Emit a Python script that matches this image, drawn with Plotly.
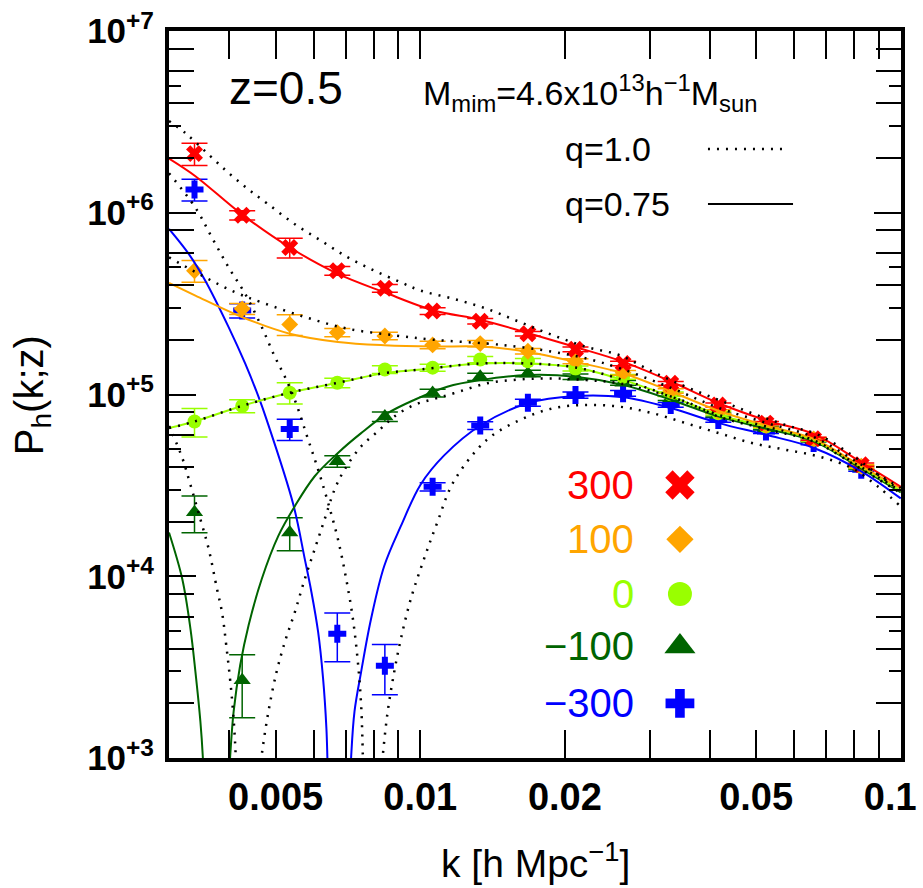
import math
import plotly.graph_objects as go

FONT = "Liberation Sans, Arial, Helvetica, sans-serif"

# ---------------- measured power spectra (simulation points) ----------------
k_bins = [0.00339, 0.00426, 0.00535, 0.00672, 0.00844, 0.01061, 0.01333, 0.01675,
          0.02104, 0.02643, 0.03321, 0.04172, 0.05242, 0.06586, 0.08275]

P_p300 = [2.115e6, 9.68e5, 6.44e5, 4.80e5, 3.84e5, 2.88e5, 2.53e5, 2.16e5,
          1.774e5, 1.482e5, 1.152e5, 8.76e4, 6.96e4, 5.71e4, 4.11e4]
P_p100 = [4.80e5, 2.96e5, 2.43e5, 2.19e5, 2.10e5, 1.875e5, 1.906e5, 1.730e5,
          1.525e5, 1.316e5, 1.045e5, 8.05e4, 6.75e4, 5.69e4, 4.03e4]
P_0 = [7.10e4, 8.65e4, 1.023e5, 1.160e5, 1.373e5, 1.405e5, 1.558e5, 1.525e5,
       1.391e5, 1.252e5, 1.003e5, 7.89e4, 6.66e4, 5.64e4, 4.00e4]
P_m100 = [2.25e4, 2.68e3, 1.740e4, 4.29e4, 7.56e4, 1.019e5, 1.252e5, 1.306e5,
          1.252e5, 1.160e5, 9.53e4, 7.72e4, 6.53e4, 5.59e4, 3.95e4]
P_m300 = [1.344e6, 2.90e5, 6.45e4, 4.83e3, 3.22e3, 3.11e4, 6.75e4, 9.02e4,
          9.94e4, 1.015e5, 8.76e4, 7.25e4, 6.26e4, 5.41e4, 3.86e4]

# relative 1-sigma errors
rel_p300 = [0.139, 0.059, 0.124, 0.055, 0.048, 0.042, 0.035, 0.030, 0.030, 0.028, 0.025, 0.025, 0.022, 0.020, 0.020]
rel_p100 = [0.137, 0.069, 0.130, 0.052, 0.048, 0.048, 0.040, 0.035, 0.032, 0.030, 0.028, 0.025, 0.022, 0.020, 0.020]
rel_0 = [0.178, 0.082, 0.134, 0.060, 0.050, 0.045, 0.040, 0.035, 0.032, 0.030, 0.028, 0.025, 0.022, 0.020, 0.020]
rel_m100 = [0.230, 0.379, 0.207, 0.073, 0.059, 0.050, 0.045, 0.040, 0.035, 0.030, 0.028, 0.025, 0.022, 0.020, 0.020]
rel_m300 = [0.137, 0.090, 0.134, 0.300, 0.309, 0.052, 0.050, 0.045, 0.040, 0.035, 0.030, 0.028, 0.025, 0.022, 0.020]

# ---------------- model curves: q = 0.75 (solid) ----------------
p300_solid_k = [0.003, 0.003405, 0.004253, 0.005353, 0.006741, 0.008418, 0.01068, 0.01334, 0.01674,
                0.02103, 0.02649, 0.03333, 0.04182, 0.05251, 0.06597, 0.08277, 0.1]
p300_solid_P = [1.986e6, 1.589e6, 9.80e5, 6.44e5, 4.61e5, 3.65e5, 2.90e5, 2.58e5, 2.18e5,
                1.826e5, 1.512e5, 1.175e5, 8.95e4, 7.20e4, 6.05e4, 4.23e4, 3.11e4]

p100_solid_k = [0.003, 0.003405, 0.004253, 0.005353, 0.006741, 0.008418, 0.01068, 0.01334, 0.01674,
                0.02103, 0.02649, 0.03333, 0.04182, 0.05251, 0.06597, 0.08277, 0.1]
p100_solid_P = [4.11e5, 3.50e5, 2.67e5, 2.16e5, 1.945e5, 1.866e5, 1.835e5, 1.835e5, 1.715e5,
                1.512e5, 1.306e5, 1.036e5, 8.12e4, 6.75e4, 5.69e4, 4.03e4, 3.04e4]

zero_k = [0.003, 0.003389, 0.004253, 0.005353, 0.006741, 0.008418, 0.01002, 0.01334, 0.01674,
          0.02103, 0.02649, 0.03333, 0.04182, 0.05251, 0.06597, 0.08277, 0.1]
zero_P = [6.53e4, 7.10e4, 8.65e4, 1.023e5, 1.160e5, 1.311e5, 1.373e5, 1.482e5, 1.482e5,
          1.409e5, 1.200e5, 9.73e4, 7.72e4, 6.66e4, 5.59e4, 3.98e4, 2.94e4]

m100_solid_a_k = [0.003, 0.003197, 0.003325, 0.003405, 0.003487, 0.003527, 0.00356]
m100_solid_a_P = [1.74e4, 9.66e3, 5.14e3, 2.98e3, 1.588e3, 1.025e3, 5.0e2]
m100_solid_b_k = [0.00398, 0.004022, 0.004089, 0.004219, 0.004392, 0.004679, 0.005066, 0.005483,
                  0.006031, 0.006741, 0.007533, 0.008556, 0.00971, 0.01138, 0.01334, 0.01674,
                  0.02103, 0.02649, 0.03333, 0.04182, 0.05251, 0.06597, 0.08277, 0.1]
m100_solid_b_P = [6.0e2, 1.025e3, 1.80e3, 3.24e3, 5.36e3, 9.66e3, 1.667e4, 2.43e4,
                  3.55e4, 4.77e4, 6.13e4, 7.89e4, 9.33e4, 1.103e5, 1.200e5, 1.279e5,
                  1.252e5, 1.127e5, 9.33e4, 7.56e4, 6.48e4, 5.52e4, 3.91e4, 2.89e4]

m300_solid_a_k = [0.003, 0.0033, 0.00357, 0.003992, 0.004321, 0.004606, 0.004791, 0.005441,
                  0.005751, 0.005937, 0.00613, 0.006277, 0.006378, 0.006407, 0.00643]
m300_solid_a_P = [8.15e5, 5.92e5, 4.23e5, 2.35e5, 1.482e5, 9.73e4, 7.25e4, 2.49e4,
                  1.243e4, 8.17e3, 4.94e3, 2.74e3, 1.459e3, 1.025e3, 6.8e2]
m300_solid_b_k = [0.00713, 0.007183, 0.007297, 0.007533, 0.007901, 0.008418, 0.009116, 0.01002,
                  0.0112, 0.01334, 0.01674, 0.02103, 0.02649, 0.03333, 0.04182, 0.05251,
                  0.06597, 0.08277, 0.1]
m300_solid_b_P = [6.0e2, 1.025e3, 1.80e3, 2.98e3, 5.84e3, 1.142e4, 1.891e4, 3.20e4,
                  4.61e4, 6.75e4, 8.95e4, 9.81e4, 9.65e4, 8.40e4, 6.96e4, 6.00e4,
                  5.08e4, 3.78e4, 2.68e4]

# ---------------- model curves: q = 1.0 (dotted) ----------------
p300_dot_k = [0.003, 0.003247, 0.003629, 0.003992, 0.004392, 0.004831, 0.005483, 0.006227, 0.00707,
              0.008027, 0.009116, 0.01002, 0.01174, 0.01377, 0.01614, 0.01891, 0.02217, 0.02599,
              0.03046, 0.03569, 0.04182, 0.04901, 0.05747, 0.06734, 0.07888, 0.0896, 0.1]
p300_dot_P = [3.2e6, 2.74e6, 2.088e6, 1.656e6, 1.344e6, 1.112e6, 8.65e5, 7.00e5, 5.68e5,
              4.80e5, 4.14e5, 3.73e5, 3.36e5, 2.96e5, 2.50e5, 2.117e5, 1.826e5, 1.645e5,
              1.333e5, 1.103e5, 9.33e4, 7.89e4, 6.81e4, 6.00e4, 4.67e4, 3.63e4, 2.95e4]

p100_dot_k = [0.003, 0.00357, 0.00412, 0.004679, 0.005751, 0.00707, 0.008828, 0.01068, 0.01377,
              0.01614, 0.01891, 0.02217, 0.02599, 0.03333, 0.04182, 0.05251, 0.06597, 0.08277, 0.1]
p100_dot_P = [5.68e5, 4.41e5, 3.65e5, 3.21e5, 2.67e5, 2.30e5, 2.117e5, 2.00e5, 1.906e5,
              1.826e5, 1.715e5, 1.578e5, 1.396e5, 1.085e5, 8.44e4, 6.98e4, 5.82e4, 4.11e4, 3.06e4]

m100_dot_a_k = [0.003, 0.003197, 0.0033, 0.003487, 0.003629, 0.003776, 0.003867, 0.003947,
                0.004056, 0.00412, 0.00415]
m100_dot_a_P = [6.72e4, 4.48e4, 3.41e4, 2.06e4, 1.41e4, 8.51e3, 6.35e3, 4.17e3,
                2.13e3, 1.182e3, 6.8e2]
m100_dot_b_k = [0.00459, 0.004679, 0.004831, 0.005024, 0.005227, 0.005483, 0.005751, 0.006031,
                0.006325, 0.006633, 0.006957, 0.007533, 0.008158, 0.008828, 0.00971, 0.01068,
                0.01174, 0.01377, 0.01614, 0.01891, 0.02217, 0.02599, 0.03569, 0.04182,
                0.05251, 0.06597, 0.08277, 0.1]
m100_dot_b_P = [6.8e2, 1.043e3, 1.80e3, 2.98e3, 4.35e3, 6.35e3, 9.66e3, 1.41e4,
                2.06e4, 3.00e4, 3.86e4, 5.18e4, 6.26e4, 7.56e4, 8.76e4, 9.45e4,
                1.015e5, 1.152e5, 1.211e5, 1.226e5, 1.200e5, 1.152e5, 9.13e4, 7.56e4,
                6.44e4, 5.50e4, 3.89e4, 2.87e4]

m300_dot_a_k = [0.003, 0.003405, 0.003686, 0.003992, 0.004321, 0.004679, 0.004984, 0.005227,
                0.005483, 0.005845, 0.00613, 0.006429, 0.006741, 0.007013, 0.007241, 0.007416,
                0.007533, 0.007594, 0.00762]
m300_dot_a_P = [1.65e6, 1.066e6, 7.30e5, 5.00e5, 3.58e5, 2.35e5, 1.61e5, 1.252e5,
                9.33e4, 5.64e4, 3.86e4, 2.54e4, 1.599e4, 9.66e3, 5.84e3, 3.38e3,
                1.957e3, 1.043e3, 6.8e2]
m300_dot_b_k = [0.00824, 0.008354, 0.008556, 0.008828, 0.009116, 0.009559, 0.01018, 0.01085,
                0.01174, 0.01377, 0.01614, 0.01891, 0.02217, 0.02599, 0.03046, 0.03569,
                0.04182, 0.04901, 0.05747, 0.06734, 0.07888, 0.0896, 0.1]
m300_dot_b_P = [6.8e2, 1.025e3, 1.80e3, 2.98e3, 4.54e3, 7.51e3, 1.243e4, 1.974e4,
                3.32e4, 5.64e4, 7.25e4, 8.40e4, 8.76e4, 8.57e4, 7.89e4, 6.96e4,
                6.13e4, 5.41e4, 4.97e4, 4.57e4, 3.95e4, 3.12e4, 2.42e4]

# ---------------- labels / ticks ----------------
fnl_labels = ["300", "100", "0", "\u2212100", "\u2212300"]
colors = ["#ff0000", "#ffa500", "#99ff00", "#006400", "#0000ff"]
symbols = ["x", "diamond", "circle", "triangle-up", "cross"]

x_tick_vals = [0.005, 0.01, 0.02, 0.05, 0.1]
x_tick_text = ["0.005", "0.01", "0.02", "0.05", "0.1\u00a0\u00a0"]
x_minor_vals = [0.004, 0.006, 0.007, 0.008, 0.009, 0.03, 0.04, 0.06, 0.07, 0.08, 0.09]

y_decades = [1e3, 1e4, 1e5, 1e6, 1e7]
y_decade_text = ["10<sup>+3</sup>", "10<sup>+4</sup>", "10<sup>+5</sup>", "10<sup>+6</sup>", "10<sup>+7</sup>"]
y_long_mult = [2, 4, 6, 8]
y_short_mult = [3, 5]

# ---------------- figure ----------------
fig = go.Figure()

series = [
    (P_m300, rel_m300, 4, 15),
    (P_m100, rel_m100, 3, 15),
    (P_0, rel_0, 2, 14),
    (P_p100, rel_p100, 1, 13),
    (P_p300, rel_p300, 0, 15),
]
for P, rel, idx, msize in series:
    fig.add_trace(go.Scatter(
        x=k_bins, y=P, mode="markers",
        marker=dict(symbol=symbols[idx], size=msize, color=colors[idx], line=dict(width=0)),
        error_y=dict(type="data", array=[p * r for p, r in zip(P, rel)],
                     color=colors[idx], thickness=1.5, width=13),
        name=fnl_labels[idx], showlegend=False, hoverinfo="skip"))

solid_curves = [
    (m300_solid_a_k, m300_solid_a_P, 4), (m300_solid_b_k, m300_solid_b_P, 4),
    (m100_solid_a_k, m100_solid_a_P, 3), (m100_solid_b_k, m100_solid_b_P, 3),
    (zero_k, zero_P, 2),
    (p100_solid_k, p100_solid_P, 1),
    (p300_solid_k, p300_solid_P, 0),
]
for kk, PP, idx in solid_curves:
    fig.add_trace(go.Scatter(x=kk, y=PP, mode="lines",
                             line=dict(color=colors[idx], width=2, shape="spline", smoothing=1),
                             showlegend=False, hoverinfo="skip"))

dot_curves = [
    (p300_dot_k, p300_dot_P), (p100_dot_k, p100_dot_P), (zero_k, zero_P),
    (m100_dot_a_k, m100_dot_a_P), (m100_dot_b_k, m100_dot_b_P),
    (m300_dot_a_k, m300_dot_a_P), (m300_dot_b_k, m300_dot_b_P),
]
for kk, PP in dot_curves:
    fig.add_trace(go.Scatter(x=kk, y=PP, mode="lines",
                             line=dict(color="black", width=2.5, dash="2px,7px", shape="spline", smoothing=1),
                             showlegend=False, hoverinfo="skip"))

# key symbols on an overlay axis (0..1 box)
key_x = [0.698] * 5
key_y = [0.3755, 0.3008, 0.2256, 0.1535, 0.0752]
key_sizes = [26, 21, 24, 27, 24]
for i in range(5):
    fig.add_trace(go.Scatter(x=[key_x[i]], y=[key_y[i]], xaxis="x2", yaxis="y2", mode="markers",
                             marker=dict(symbol=symbols[i], size=key_sizes[i], color=colors[i],
                                         line=dict(width=0)),
                             showlegend=False, hoverinfo="skip", cliponaxis=False))

annotations = []
for i in range(5):
    annotations.append(dict(xref="paper", yref="paper", x=0.638, y=key_y[i], xanchor="right",
                            yanchor="middle", text=fnl_labels[i], showarrow=False,
                            font=dict(family=FONT, size=40, color=colors[i])))

annotations += [
    dict(xref="paper", yref="paper", x=0.1605, y=0.9216, xanchor="center", yanchor="middle",
         text="z=0.5", showarrow=False, font=dict(family=FONT, size=46, color="black")),
    dict(xref="paper", yref="paper", x=0.3439, y=0.9147, xanchor="left", yanchor="middle",
         text="M<sub>mim</sub>=4.6x10<sup>13</sup>h<sup>\u22121</sup>M<sub>sun</sub>",
         showarrow=False, font=dict(family=FONT, size=34, color="black")),
    dict(xref="paper", yref="paper", x=0.5383, y=0.8377, xanchor="left", yanchor="middle",
         text="q=1.0", showarrow=False, font=dict(family=FONT, size=34, color="black")),
    dict(xref="paper", yref="paper", x=0.5383, y=0.7620, xanchor="left", yanchor="middle",
         text="q=0.75", showarrow=False, font=dict(family=FONT, size=34, color="black")),
    dict(xref="paper", yref="paper", x=0.5, y=-0.1405, xanchor="center", yanchor="middle",
         text="k [h Mpc<sup>\u22121</sup>]", showarrow=False,
         font=dict(family=FONT, size=39, color="black")),
    dict(xref="paper", yref="paper", x=-0.1872, y=0.4990, xanchor="center", yanchor="middle",
         text="P<sub>h</sub>(k;z)", textangle=-90, showarrow=False,
         font=dict(family=FONT, size=40, color="black")),
]

shapes = [
    dict(type="line", xref="paper", yref="paper", x0=0.7363, x1=0.8456, y0=0.8377, y1=0.8377,
         line=dict(color="black", width=2.5, dash="2px,7px")),
    dict(type="line", xref="paper", yref="paper", x0=0.7363, x1=0.8525, y0=0.7620, y1=0.7620,
         line=dict(color="black", width=2)),
]

y_long_vals = [m * d for d in y_decades[:-1] for m in y_long_mult]
y_short_vals = [m * d for d in y_decades[:-1] for m in y_short_mult]

fig.update_layout(
    width=923, height=888,
    margin=dict(l=169, r=22, t=31, b=130, autoexpand=False),
    paper_bgcolor="white", plot_bgcolor="white",
    showlegend=False,
    font=dict(family=FONT, color="black"),
    xaxis=dict(type="log", range=[math.log10(0.003), -0.9995], showline=True, linewidth=4,
               linecolor="black", mirror="allticks", ticks="inside", ticklen=28, tickwidth=2,
               tickcolor="black", tickmode="array", tickvals=x_tick_vals, ticktext=x_tick_text,
               tickfont=dict(family=FONT, size=38, color="black", weight="bold"),
               ticklabelstandoff=2, ticklabeloverflow="allow", automargin=False,
               showgrid=False, zeroline=False,
               minor=dict(tickmode="array", tickvals=x_minor_vals, ticks="inside", ticklen=13,
                          tickwidth=2, tickcolor="black", showgrid=False)),
    yaxis=dict(type="log", range=[3, 7], showline=True, linewidth=4,
               linecolor="black", mirror="allticks", ticks="inside", ticklen=27, tickwidth=2,
               tickcolor="black", tickmode="array", tickvals=y_decades, ticktext=y_decade_text,
               tickfont=dict(family=FONT, size=35, color="black", weight="bold"),
               ticklabelstandoff=4, automargin=False, showgrid=False, zeroline=False,
               minor=dict(tickmode="array", tickvals=y_long_vals, ticks="inside", ticklen=25,
                          tickwidth=2, tickcolor="black", showgrid=False)),
    yaxis3=dict(type="log", range=[3, 7], overlaying="y", anchor="x", side="left",
                showline=False, mirror="allticks", ticks="inside", ticklen=12, tickwidth=2,
                tickcolor="black", tickmode="array", tickvals=y_short_vals, automargin=False,
                showticklabels=False, showgrid=False, zeroline=False, fixedrange=True),
    xaxis2=dict(overlaying="x", anchor="y2", range=[0, 1], visible=False, fixedrange=True),
    yaxis2=dict(overlaying="y", anchor="x2", range=[0, 1], visible=False, fixedrange=True),
    annotations=annotations,
    shapes=shapes,
)

# invisible trace so the short-tick overlay axis is drawn
fig.add_trace(go.Scatter(x=[0.05], y=[1e5], yaxis="y3", mode="markers",
                         marker=dict(size=1, opacity=0), showlegend=False, hoverinfo="skip"))

fig.write_html("out.html")
